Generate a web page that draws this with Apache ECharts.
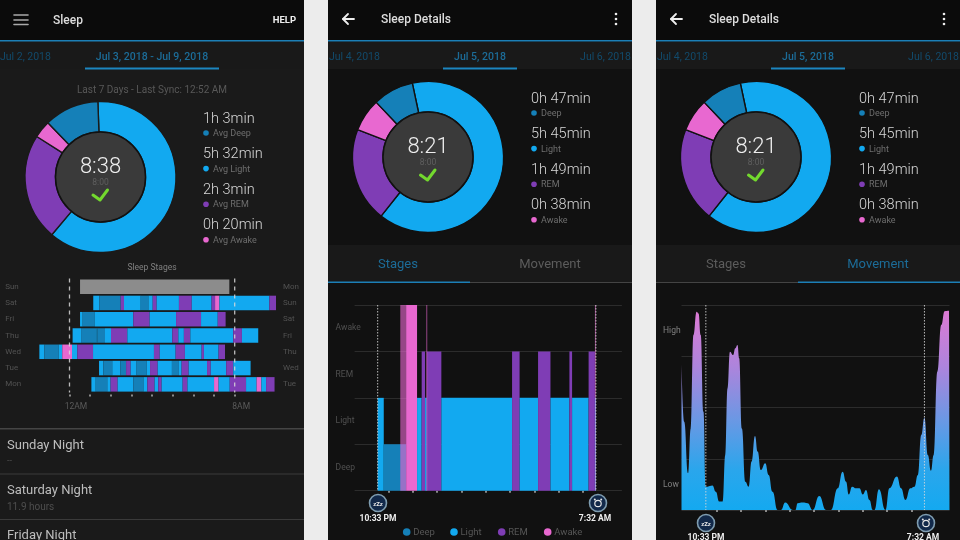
<!DOCTYPE html>
<html>

<head>
	<meta charset="utf-8">
	<title>Sleep</title>
	<style>
		html, body { margin: 0; padding: 0; background: #ececec; }
		#main { width: 960px; height: 540px; }
	</style>
	<script src="https://cdn.jsdelivr.net/npm/echarts@6/dist/echarts.min.js"></script>
</head>

<body>
	<div id="main"></div>
	<script>
		// stages, order is used as the bar height in the details chart
		var stageNames = ['Deep', 'Light', 'REM', 'Awake', 'None'];
		var stageColors = ['#1580b8', '#12a9f0', '#7f3db5', '#e868d0', '#8c8c8c'];

		// summary donuts, minutes
		var weekMinutes = [63, 332, 123, 20];
		var weekDurations = ['1h 3min', '5h 32min', '2h 3min', '0h 20min'];
		var weekLabels = ['Avg Deep', 'Avg Light', 'Avg REM', 'Avg Awake'];
		var nightMinutes = [47, 345, 109, 38];
		var nightDurations = ['0h 47min', '5h 45min', '1h 49min', '0h 38min'];
		var nightLabels = ['Deep', 'Light', 'REM', 'Awake'];

		// weekly sleep stages, hours from midnight
		var nightNames = ['Sun', 'Sat', 'Fri', 'Thu', 'Wed', 'Tue', 'Mon'];
		var morningNames = ['Mon', 'Sun', 'Sat', 'Fri', 'Thu', 'Wed', 'Tue'];
		var weekTickHours = [0, 1, 2, 3, 4, 5, 6, 7, 8];
		var weekTickLabels = ['12AM', '8AM'];
		var weekGuides = [0, 8];

		var sunHours = [0.51, 7.74];
		var sunStages = ['None'];
		var satHours = [1.15, 1.44, 2.48, 2.64, 3.45, 3.82, 4.03, 4.22, 5.30, 5.92, 6.88, 7.05, 7.26, 9.68, 10.0];
		var satStages = ['Light', 'Deep', 'REM', 'Light', 'Deep', 'Light', 'REM', 'Light', 'REM', 'Light', 'REM', 'Awake', 'Light', 'REM'];
		var friHours = [0.51, 0.64, 1.23, 3.09, 3.88, 5.16, 6.37, 7.18, 7.56];
		var friStages = ['Light', 'Deep', 'Light', 'REM', 'Light', 'REM', 'Light', 'REM'];
		var thuHours = [0.15, 0.56, 1.32, 1.35, 1.72, 2.01, 2.80, 4.98, 5.27, 5.54, 5.85, 7.93, 8.35, 9.14];
		var thuStages = ['Light', 'Deep', 'Light', 'Deep', 'Light', 'REM', 'Light', 'REM', 'Light', 'REM', 'Light', 'REM', 'Light'];
		var wedHours = [-1.46, -1.22, -0.52, -0.35, 0.12, 0.38, 1.14, 4.09, 4.37, 5.14, 5.59, 6.40, 6.51, 7.22, 7.53];
		var wedStages = ['Light', 'Deep', 'Light', 'Awake', 'Light', 'REM', 'Light', 'REM', 'Light', 'REM', 'Light', 'REM', 'Light', 'REM'];
		var tueHours = [1.43, 1.64, 2.07, 2.46, 2.74, 2.96, 3.25, 3.74, 3.90, 4.27, 4.96, 5.30, 5.43, 5.77, 6.66, 6.84, 7.59, 7.93, 8.77];
		var tueStages = ['Light', 'Deep', 'Light', 'Deep', 'REM', 'Light', 'Deep', 'Light', 'REM', 'Light', 'Deep', 'Light', 'REM', 'Light', 'REM', 'Light', 'REM', 'Light'];
		var monHours = [1.06, 1.27, 1.83, 1.99, 2.33, 3.09, 3.58, 3.77, 4.12, 4.30, 4.46, 5.48, 5.71, 7.00, 7.22, 7.76, 8.55, 9.06, 9.29, 9.52, 9.93];
		var monStages = ['Light', 'Deep', 'Light', 'REM', 'Light', 'Deep', 'Light', 'REM', 'Light', 'REM', 'Light', 'REM', 'Light', 'Awake', 'Light', 'REM', 'Light', 'Awake', 'Light', 'REM'];

		// Jul 5 stages, hours from midnight
		var detailHours = [-1.45, -1.20, -0.28, 0.17, 0.36, 0.50, 0.57, 1.17, 4.08, 4.39, 5.15, 5.66, 6.44, 6.55, 7.23, 7.49, 7.53];
		var detailStages = ['Light', 'Deep', 'Awake', 'Light', 'REM', 'Light', 'REM', 'Light', 'REM', 'Light', 'REM', 'Light', 'REM', 'Light', 'REM', 'Light'];
		// short awake spells that look faded in the app
		var fadedSpans = [[-0.52, -0.28], [0.55, 0.59], [7.49, 7.53]];
		var detailTickHours = [-1, 0, 1, 2, 3, 4, 5, 6, 7];
		var sleepGuides = [-1.45, 7.53];

		// Jul 5 movement, [hour, level]
		var movement = [
			[-2.45, 71.5], [-2.34, 43.1], [-2.18, 17.9], [-2.07, 39.8], [-1.96, 85.4], [-1.83, 96.7], [-1.75, 95.9], [-1.66, 85.4],
			[-1.55, 48], [-1.45, 11.4], [-1.38, 11.4], [-1.18, 11.9], [-1.04, 8.9], [-0.90, 4.1], [-0.76, 4.1], [-0.65, 26.8],
			[-0.56, 59.3], [-0.46, 77.2], [-0.33, 75.6], [-0.24, 78.9], [-0.15, 80.5], [-0.08, 74], [0.03, 39.8], [0.17, 13.8],
			[0.31, 11.4], [0.43, 23.6], [0.57, 36.1], [0.68, 28.5], [0.81, 19.5], [0.99, 22.8], [1.13, 17.1], [1.29, 8.9],
			[1.50, 0], [1.64, 0], [1.81, 3.6], [2.12, 0], [2.23, 0], [2.32, 3.3], [2.53, 3.6], [2.73, 3.3],
			[2.94, 0], [3.21, 6.8], [3.49, 0], [3.69, 0], [3.97, 10.6], [4.17, 18.7], [4.31, 13.8], [4.42, 7.6],
			[4.56, 11.4], [4.72, 10.6], [4.86, 10.6], [5.00, 7.6], [5.13, 9.8], [5.27, 4.9], [5.41, 0], [5.48, 0],
			[5.66, 10.1], [5.93, 0], [6.09, 10.6], [6.40, 16.3], [6.57, 10.6], [6.75, 4.9], [6.95, 10.6], [7.12, 11.4],
			[7.26, 17.1], [7.40, 36.6], [7.53, 45], [7.67, 26.8], [7.80, 19.2], [7.91, 26.8], [8.06, 67.5], [8.22, 90.2],
			[8.36, 97], [8.54, 97.2], [8.56, 97.2]
		];
		var movementTicks = [12.5, 87.5];
		var movementTickLabels = ['Low', 'High'];

		var FONT = 'Roboto, "Noto Sans", sans-serif';
		var TAB_ON = '#1c6c98';
		var TAB_SIDE = '#124a6b';
		var graphics = [];

		function addRect(x, y, w, h, fill, z) {
			graphics.push({ type: 'rect', z: z === undefined ? -5 : z, silent: true, shape: { x: x, y: y, width: w, height: h }, style: { fill: fill } });
		}

		function addText(x, y, text, size, fill, align, weight) {
			graphics.push({
				type: 'text', x: x, y: y + 1, z: 20, silent: true,
				style: {
					text: text, fill: fill, textAlign: align || 'left', textVerticalAlign: 'middle',
					font: (weight || 400) + ' ' + size + 'px ' + FONT
				}
			});
		}

		function addCircle(x, y, r, fill, stroke, width) {
			graphics.push({
				type: 'circle', z: 15, silent: true, shape: { cx: x, cy: y, r: r },
				style: { fill: fill, stroke: stroke || null, lineWidth: width || 0 }
			});
		}

		function addLine(points, stroke, width) {
			graphics.push({
				type: 'polyline', z: 20, silent: true, shape: { points: points },
				style: { fill: null, stroke: stroke, lineWidth: width, lineCap: 'round', lineJoin: 'round' }
			});
		}

		// panel frame, title bar and date tabs
		function addPhone(x, w, bodyColor) {
			addRect(x, 0, w, 540, bodyColor);
			addRect(x, 0, w, 40, '#0b0b0b');
			addRect(x, 42, w, 27, '#191919');
			addRect(x, 40, w, 1.6, '#1c7fb6', 1);
		}

		function addDetailsHeader(x, active) {
			addLine([[x + 15, 19], [x + 26, 19]], '#eee', 1.8);
			addLine([[x + 20, 14], [x + 15, 19], [x + 20, 24]], '#eee', 1.8);
			addText(x + 53, 19, 'Sleep Details', 12, '#ddd', 'left', 500);
			addCircle(x + 288, 14, 1.3, '#eee');
			addCircle(x + 288, 19, 1.3, '#eee');
			addCircle(x + 288, 24, 1.3, '#eee');
			addText(x + 1, 56, 'Jul 4, 2018', 10.5, TAB_SIDE);
			addText(x + 152, 56, 'Jul 5, 2018', 10.5, TAB_ON, 'center', 500);
			addText(x + 303, 56, 'Jul 6, 2018', 10.5, TAB_SIDE, 'right');
			addRect(x + 115, 67.5, 74, 2, '#1c86c0', 1);
			// stages / movement tabs
			addRect(x, 245, 304, 38, '#191919');
			addRect(x, 282, 304, 1, '#444', 1);
			addRect(active === 0 ? x : x + 142, 281.5, 162 - (active === 0 ? 20 : 0), 1.6, '#1c7fb6', 2);
			addText(x + 70, 264, 'Stages', 13, active === 0 ? TAB_ON : '#5c5c5c', 'center');
			addText(x + 222, 264, 'Movement', 13, active === 1 ? TAB_ON : '#5c5c5c', 'center');
		}

		// text in the hole of a donut and the list next to it
		function addDonutText(cx, cy, total, durations, labels, listX, listY) {
			addCircle(cx, cy, 45, '#3a3a3a', '#111', 1.5);
			addText(cx, cy - 11, total, 22, '#eee', 'center', 300);
			addText(cx, cy + 5, '8:00', 8.5, '#5f5f5f', 'center');
			addLine([[cx - 7.5, cy + 18], [cx - 0.5, cy + 23], [cx + 7, cy + 13]], '#73d92e', 3);
			for (var i = 0; i < durations.length; i++) {
				var y = listY + i * 35.6;
				addText(listX, y, durations[i], 14.5, '#d8d8d8', 'left', 300);
				addCircle(listX + 3, y + 15, 2.8, stageColors[i]);
				addText(listX + 10, y + 15, labels[i], 9, '#6e6e6e');
			}
		}

		function addSleepIcons(startX, endX, y, labelY) {
			addCircle(startX, y, 8.5, '#12294a', '#7f9db0', 1.6);
			addText(startX, y, 'zZz', 6, '#e6e6e6', 'center', 700);
			addCircle(endX, y, 8.5, '#12294a', '#7f9db0', 1.6);
			addCircle(endX, y + 0.5, 3.2, null, '#e6e6e6', 1.2);
			addCircle(endX - 3.2, y - 3.4, 1, '#e6e6e6');
			addCircle(endX + 3.2, y - 3.4, 1, '#e6e6e6');
			addText(startX, labelY, '10:33 PM', 8.5, '#eee', 'center', 700);
			addText(endX - 3, labelY, '7:32 AM', 8.5, '#eee', 'center', 700);
		}

		// backgrounds
		addRect(0, 0, 960, 540, '#ececec', -6);
		addPhone(0, 304, '#1a1a1a');
		addPhone(328, 304, '#111111');
		addPhone(656, 304, '#111111');

		// left phone
		addLine([[14, 15], [28, 15]], '#aaa', 1.6);
		addLine([[14, 20], [28, 20]], '#aaa', 1.6);
		addLine([[14, 24.5], [28, 24.5]], '#aaa', 1.6);
		addText(53, 20, 'Sleep', 12, '#ddd', 'left', 500);
		addText(296, 20, 'HELP', 9.5, '#eee', 'right', 700);
		addText(0, 56, 'Jul 2, 2018', 10.5, TAB_SIDE);
		addText(152, 56, 'Jul 3, 2018 - Jul 9, 2018', 10.5, TAB_ON, 'center', 500);
		addRect(85, 67.5, 134, 2, '#1c86c0', 1);
		addText(152, 89, 'Last 7 Days - Last Sync: 12:52 AM', 10, '#585858', 'center');
		addDonutText(100.5, 177, '8:38', weekDurations, weekLabels, 203, 118);
		addText(152, 267, 'Sleep Stages', 8.5, '#808080', 'center');
		addRect(0, 428, 304, 1.6, '#454545', 1);
		addRect(0, 473.5, 304, 1, '#3a3a3a', 1);
		addRect(0, 519, 304, 1, '#3a3a3a', 1);
		addText(7, 445, 'Sunday Night', 13, '#bdbdbd');
		addText(7, 460, '--', 9, '#4e4e4e');
		addText(7, 490, 'Saturday Night', 13, '#bdbdbd');
		addText(7, 506, '11.9 hours', 10, '#4e4e4e');
		addText(7, 535, 'Friday Night', 13, '#bdbdbd');

		// middle phone
		addDetailsHeader(328, 0);
		addDonutText(428, 157, '8:21', nightDurations, nightLabels, 531, 98);
		addSleepIcons(378, 598, 503, 517.7);
		var legendDotX = [406.7, 454, 501.7, 547.7];
		for (var k = 0; k < 4; k++) {
			addCircle(legendDotX[k], 532, 3.8, stageColors[k]);
			addText(legendDotX[k] + 6.5, 532, nightLabels[k], 9.5, '#565656');
		}

		// right phone
		addDetailsHeader(656, 1);
		addDonutText(756, 157, '8:21', nightDurations, nightLabels, 859, 98);
		addSleepIcons(706, 926, 523, 537);

		function donutSeries(center, minutes, startAngle, border) {
			// light first, going clockwise, then REM, awake and deep
			var order = [1, 2, 3, 0];
			return {
				type: 'pie',
				center: center,
				radius: [45, 75.5],
				startAngle: startAngle,
				silent: true,
				label: { show: false },
				labelLine: { show: false },
				itemStyle: { borderColor: border, borderWidth: 1.4 },
				data: order.map(function(i) {
					return { name: stageNames[i], value: minutes[i], itemStyle: { color: stageColors[i] } };
				})
			};
		}

		// one night row -> [from, to, row, stage]
		function nightRows(row, hours, stages) {
			return stages.map(function(stage, i) {
				return [hours[i], hours[i + 1], row, stageNames.indexOf(stage)];
			});
		}

		var weekData = [].concat(
			nightRows(0, sunHours, sunStages),
			nightRows(1, satHours, satStages),
			nightRows(2, friHours, friStages),
			nightRows(3, thuHours, thuStages),
			nightRows(4, wedHours, wedStages),
			nightRows(5, tueHours, tueStages),
			nightRows(6, monHours, monStages)
		);

		var detailData = detailStages.map(function(stage, i) {
			var level = stageNames.indexOf(stage);
			return [detailHours[i], detailHours[i + 1], level + 1, level];
		});
		var fadedData = fadedSpans.map(function(span) {
			return [span[0], span[1], 4, 3];
		});

		function renderWeekBar(params, api) {
			var a = api.coord([api.value(0), api.value(2)]);
			var b = api.coord([api.value(1), api.value(2)]);
			var h = api.size([0, 1])[1] * 0.89;
			return {
				type: 'rect',
				shape: { x: a[0], y: a[1] - h / 2, width: b[0] - a[0], height: h },
				style: { fill: stageColors[api.value(3)] }
			};
		}

		function renderDetailBar(opacity) {
			return function(params, api) {
				var a = api.coord([api.value(0), api.value(2)]);
				var b = api.coord([api.value(1), 0]);
				return {
					type: 'rect',
					shape: { x: a[0], y: a[1], width: b[0] - a[0], height: b[1] - a[1] },
					style: { fill: stageColors[api.value(3)], opacity: opacity }
				};
			};
		}

		// vertical guide through the whole grid
		function renderGuide(lineDash, width) {
			return function(params, api) {
				var p = api.coord([api.value(0), api.value(1)]);
				return {
					type: 'line',
					shape: { x1: p[0], y1: params.coordSys.y, x2: p[0], y2: params.coordSys.y + params.coordSys.height },
					style: { stroke: '#d8d8d8', lineWidth: width, lineDash: lineDash, opacity: 0.85 }
				};
			};
		}

		function guideSeries(hours, xIndex, yIndex, lineDash, width) {
			return {
				type: 'custom', xAxisIndex: xIndex, yAxisIndex: yIndex, silent: true, z: 5,
				renderItem: renderGuide(lineDash, width),
				encode: { x: 0, y: 1 },
				data: hours.map(function(h) { return [h, 0]; })
			};
		}

		var gridLine = { show: true, lineStyle: { color: '#2c2c2c', width: 1 } };
		var hiddenLine = { show: false };
		var dotTick = { show: true, length: 2, lineStyle: { color: '#8a8a8a', width: 2 } };

		var option = {
			animation: false,
			backgroundColor: '#ececec',
			textStyle: { fontFamily: FONT },
			graphic: { elements: graphics },
			grid: [
				{ left: 28.2, top: 278.5, width: 247.8, height: 114 },
				{ left: 354.6, top: 305, width: 267.3, height: 185.7 },
				{ left: 681.5, top: 305, width: 268, height: 205 }
			],
			xAxis: [{
				gridIndex: 0, type: 'value', min: -2, max: 10, offset: 2,
				axisLine: hiddenLine, splitLine: hiddenLine,
				axisTick: Object.assign({ customValues: weekTickHours }, dotTick),
				axisLabel: {
					customValues: [0, 8], color: '#5a5a5a', fontSize: 8.5, margin: 8, padding: [0, 0, 0, 13],
					formatter: function(v) { return weekTickLabels[v === 0 ? 0 : 1]; }
				}
			}, {
				gridIndex: 1, type: 'value', min: -2.4, max: 8.6, offset: 11,
				axisLine: hiddenLine, splitLine: hiddenLine, axisLabel: { show: false },
				axisTick: Object.assign({ customValues: detailTickHours }, dotTick)
			}, {
				gridIndex: 2, type: 'value', min: -2.45, max: 8.56, offset: 11,
				axisLine: hiddenLine, splitLine: hiddenLine, axisLabel: { show: false },
				axisTick: Object.assign({ customValues: detailTickHours }, dotTick)
			}],
			yAxis: [{
				gridIndex: 0, type: 'category', inverse: true, data: nightNames,
				axisLine: hiddenLine, axisTick: hiddenLine, splitLine: hiddenLine,
				axisLabel: { color: '#525252', fontSize: 8, align: 'left', margin: 23 }
			}, {
				gridIndex: 0, type: 'category', inverse: true, position: 'right', data: morningNames,
				axisLine: hiddenLine, axisTick: hiddenLine, splitLine: hiddenLine,
				axisLabel: { color: '#525252', fontSize: 8, align: 'left', margin: 7 }
			}, {
				gridIndex: 1, type: 'value', min: 0, max: 4, interval: 1,
				axisLine: hiddenLine, axisTick: hiddenLine, splitLine: gridLine,
				axisLabel: {
					customValues: [0.5, 1.5, 2.5, 3.5], color: '#505050', fontSize: 8.5, align: 'left', margin: 19,
					formatter: function(v) { return stageNames[Math.floor(v)]; }
				}
			}, {
				gridIndex: 2, type: 'value', min: 0, max: 100, interval: 25,
				axisLine: hiddenLine, axisTick: hiddenLine, splitLine: gridLine,
				axisLabel: {
					customValues: movementTicks, color: '#808080', fontSize: 8.5, align: 'left', margin: 18.5,
					formatter: function(v) { return movementTickLabels[movementTicks.indexOf(v)]; }
				}
			}],
			series: [
				donutSeries([100.5, 177], weekMinutes, 92, '#1a1a1a'),
				donutSeries([428, 157], nightMinutes, 102, '#111'),
				donutSeries([756, 157], nightMinutes, 102, '#111'),
				{
					type: 'custom', xAxisIndex: 0, yAxisIndex: 0, silent: true,
					renderItem: renderWeekBar,
					encode: { x: [0, 1], y: 2 },
					data: weekData
				},
				guideSeries(weekGuides, 0, 0, [4, 4], 1.3),
				{
					type: 'custom', xAxisIndex: 1, yAxisIndex: 2, silent: true,
					renderItem: renderDetailBar(1),
					encode: { x: [0, 1], y: 2 },
					data: detailData
				},
				{
					type: 'custom', xAxisIndex: 1, yAxisIndex: 2, silent: true, z: 3,
					renderItem: renderDetailBar(0.62),
					encode: { x: [0, 1], y: 2 },
					data: fadedData
				},
				guideSeries(sleepGuides, 1, 2, [1.5, 1.5], 1),
				{
					type: 'line', xAxisIndex: 2, yAxisIndex: 3, silent: true,
					data: movement,
					smooth: 0.5,
					smoothMonotone: 'x',
					showSymbol: false,
					lineStyle: { width: 0 },
					areaStyle: {
						opacity: 1,
						color: new echarts.graphic.LinearGradient(0, 0, 0, 1, [
							{ offset: 0, color: '#dd7ad4' },
							{ offset: 0.28, color: '#ad84dc' },
							{ offset: 0.55, color: '#6a98e4' },
							{ offset: 0.8, color: '#2aa6ec' },
							{ offset: 1, color: '#14a9f0' }
						])
					}
				},
				guideSeries(sleepGuides, 2, 3, [1.5, 1.5], 1)
			]
		};

		var chart = echarts.init(document.getElementById('main'));
		chart.setOption(option);
	</script>
</body>

</html>
